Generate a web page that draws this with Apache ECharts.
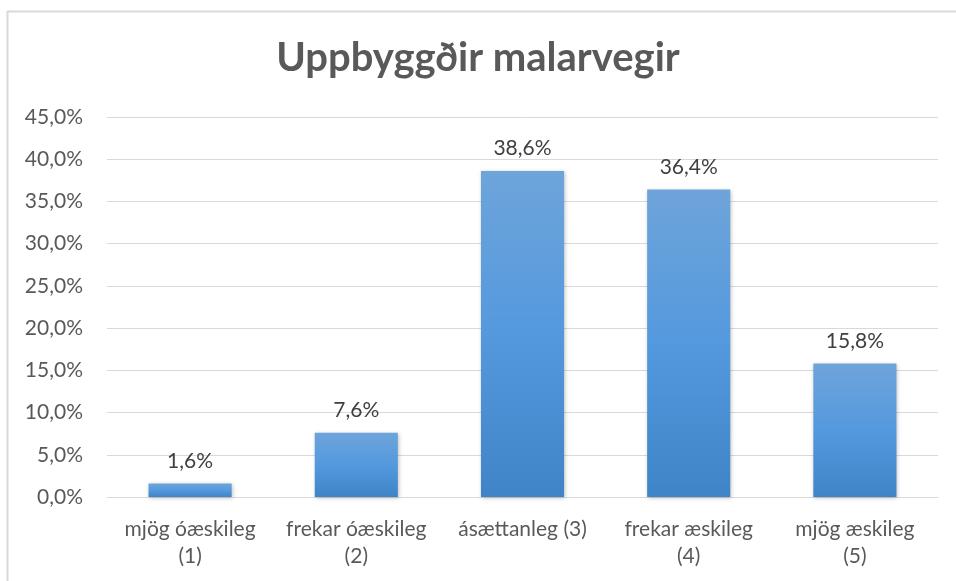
<!DOCTYPE html>
<html>
<head>
<meta charset="utf-8">
<script src="https://cdn.jsdelivr.net/npm/echarts@6/dist/echarts.min.js"></script>
<style>
  html, body { margin: 0; padding: 0; background: #fff; }
  #chart { width: 956px; height: 581px; }
</style>
</head>
<body>
<div id="chart"></div>
<script>
// Survey answers for built gravel roads
const categories = ['mjög óæskileg\n(1)', 'frekar óæskileg\n(2)', 'ásættanleg (3)', 'frekar æskileg\n(4)', 'mjög æskileg\n(5)'];
const shares = [1.6, 7.6, 38.6, 36.4, 15.8];
const titleText = 'Uppbyggðir malarvegir';

const fmt = v => v.toFixed(1).replace('.', ',') + '%';
const FONT = 'Lato';

const chart = echarts.init(document.getElementById('chart'), null, { renderer: 'canvas' });
chart.setOption({
  animation: false,
  backgroundColor: '#ffffff',
  title: {
    text: titleText,
    left: 'center',
    top: 33,
    textStyle: {
      fontFamily: FONT,
      fontWeight: 'bold',
      fontSize: 40,
      color: '#595959'
    }
  },
  graphic: [
    { type: 'line', shape: { x1: 7.5, y1: 11, x2: 7.5, y2: 581 }, style: { stroke: '#d9d9d9', lineWidth: 2 } },
    { type: 'line', shape: { x1: 7, y1: 11.5, x2: 956, y2: 11.5 }, style: { stroke: '#d9d9d9', lineWidth: 2 } }
  ],
  grid: { left: 107, right: 18, top: 117, bottom: 84 },
  xAxis: {
    type: 'category',
    data: categories,
    axisLine: { lineStyle: { color: '#d9d9d9', width: 1 } },
    axisTick: { show: false },
    axisLabel: {
      color: '#595959',
      fontFamily: FONT,
      fontSize: 21,
      lineHeight: 27,
      margin: 19,
      interval: 0
    }
  },
  yAxis: {
    type: 'value',
    min: 0,
    max: 45,
    interval: 5,
    axisLine: { show: false },
    axisTick: { show: false },
    splitLine: { lineStyle: { color: '#d9d9d9', width: 1 } },
    axisLabel: {
      color: '#595959',
      fontFamily: FONT,
      fontSize: 21,
      margin: 24,
      formatter: v => fmt(v)
    }
  },
  series: [{
    type: 'bar',
    data: shares,
    barWidth: '50%',
    itemStyle: {
      color: new echarts.graphic.LinearGradient(0, 0, 0, 1, [
        { offset: 0, color: '#6ea4da' },
        { offset: 0.5, color: '#5499de' },
        { offset: 1, color: '#3f84c6' }
      ]),
      shadowColor: 'rgba(0,0,0,0.25)',
      shadowBlur: 4,
      shadowOffsetX: 1,
      shadowOffsetY: 1
    },
    label: {
      show: true,
      position: 'top',
      distance: 12,
      color: '#404040',
      fontFamily: FONT,
      fontSize: 21,
      formatter: p => fmt(p.value)
    }
  }]
});
</script>
</body>
</html>
